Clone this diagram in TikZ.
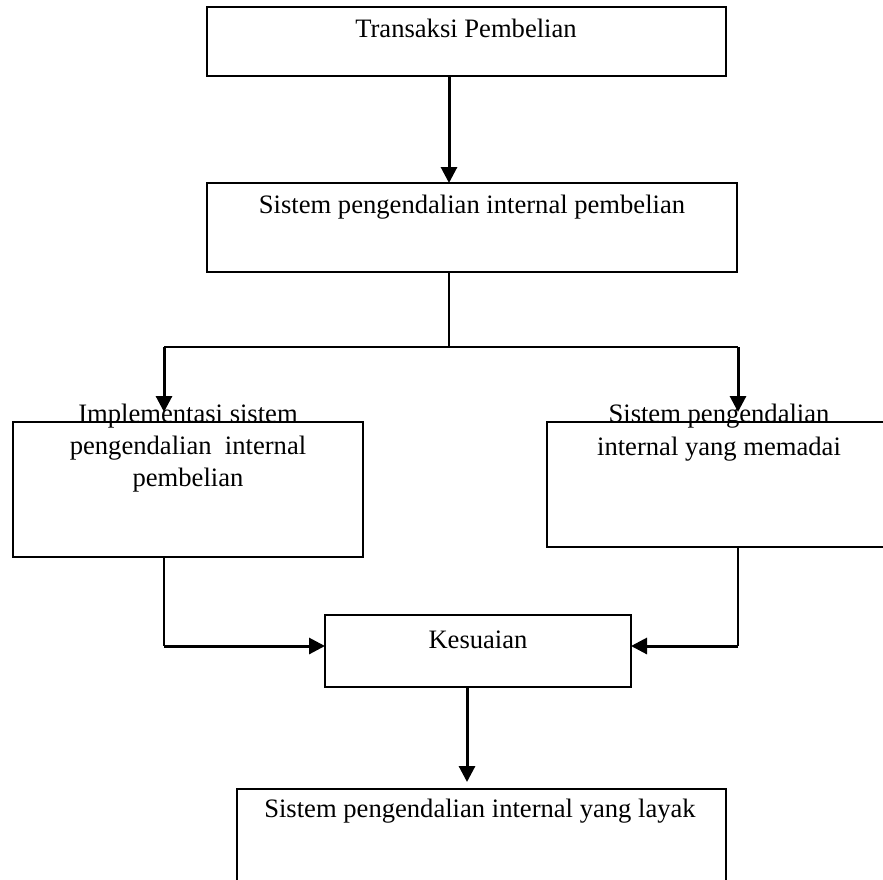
\documentclass[tikz,border=0pt]{standalone}
\usepackage{fontspec}
\setmainfont{Liberation Serif}
\usetikzlibrary{arrows.meta}
\newcommand\tnrfont{\fontsize{26.6}{32}\selectfont}
\tikzset{
  box/.style={draw, line width=2pt, inner sep=0pt, outer sep=0pt, anchor=north west},
  lbl/.style={anchor=base, inner sep=0pt, font=\tnrfont},
  conn/.style={line width=2pt},
  fat/.style={line width=3pt},
  tip/.style={-{Triangle[width=16pt,length=16pt]}}
}
\begin{document}
\begin{tikzpicture}[x=1pt,y=-1pt]
\useasboundingbox (0,0) rectangle (883,879);
\clip (0,0) rectangle (883,879);
\fill[white] (0,0) rectangle (883,879);
% boxes
\node[box, minimum width=519pt, minimum height=69pt] (b1) at (207,7) {};
\node[box, minimum width=530pt, minimum height=89pt] (b2) at (207,183) {};
\node[box, minimum width=350pt, minimum height=135pt] (b3) at (13,422) {};
\node[box, minimum width=344pt, minimum height=125pt] (b4) at (547,422) {};
\node[box, minimum width=306pt, minimum height=72pt] (b5) at (325,615) {};
\node[box, minimum width=489pt, minimum height=120pt] (b6) at (237,789) {};
% labels
\node[lbl] (t1) at (466,37) {Transaksi Pembelian};
\node[lbl] (t2) at (472,213) {Sistem pengendalian internal pembelian};
\node[lbl] (t3a) at (188,422) {Implementasi sistem};
\node[lbl] (t3b) at (188,454) {pengendalian\ \ internal};
\node[lbl] (t3c) at (188,486) {pembelian};
\node[lbl] (t4a) at (719,422) {Sistem pengendalian};
\node[lbl] (t4b) at (719,455) {internal yang memadai};
\node[lbl] (t5) at (478,648) {Kesuaian};
\node[lbl] (t6) at (480,817) {Sistem pengendalian internal yang layak};
% guide coordinates
\coordinate (v1) at (449,0);
\coordinate (v2) at (467,0);
\coordinate (cl) at (164,0);
\coordinate (cr) at (738,0);
\coordinate (hb) at (0,347);
\coordinate (hk) at (0,646);
% connectors
\draw[fat,tip] (v1 |- b1.south) -- (v1 |- b2.north);
\draw[conn] (v1 |- b2.south) -- (v1 |- hb);
\draw[conn] (cl |- hb) -- (cr |- hb);
\draw[fat,tip,shorten >=10pt] (cl |- hb) -- (cl |- b3.north);
\draw[fat,tip,shorten >=10pt] (cr |- hb) -- (cr |- b4.north);
\draw[conn] (cl |- b3.south) -- (cl |- hk);
\draw[fat,tip] (cl |- hk) -- (b5.west |- hk);
\draw[conn] (cr |- b4.south) -- (cr |- hk);
\draw[fat,tip] (cr |- hk) -- (b5.east |- hk);
\draw[fat,tip,shorten >=7pt] (v2 |- b5.south) -- (v2 |- b6.north);
\end{tikzpicture}
\end{document}
